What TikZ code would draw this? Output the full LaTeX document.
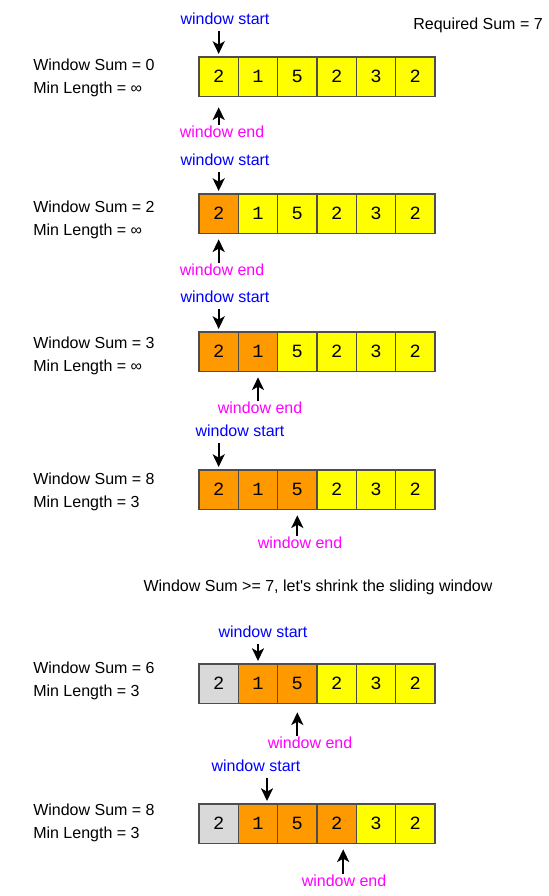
\documentclass[tikz,border=0pt]{standalone}
\usepackage{fontspec}
\setmainfont{Liberation Sans}
\newfontfamily\cellfont{Liberation Mono}
\usetikzlibrary{arrows.meta,positioning}
\definecolor{todo}{HTML}{FFFF00}
\definecolor{inwin}{HTML}{FF9900}
\definecolor{gone}{HTML}{D9D9D9}
\definecolor{celledge}{HTML}{4D4D4D}
\definecolor{startblue}{HTML}{0000FF}
\definecolor{endpink}{HTML}{FF00FF}

\begin{document}
\begin{tikzpicture}[x=0.75pt,y=-0.75pt,
  cell/.style={rectangle,draw=celledge,line width=1.1pt,minimum size=29.5pt,inner sep=0pt,outer sep=0pt,
    font=\cellfont\fontsize{14pt}{16pt}\selectfont},
  txt/.style={inner sep=0pt,text height=9pt,text depth=2.5pt,font=\fontsize{12pt}{14pt}\selectfont},
  sum node/.style={txt,anchor=west},
  start node/.style={txt,text=startblue},
  end node/.style={txt,text=endpink},
  ptr/.style={-{Stealth[length=9.5pt,width=9pt,inset=2.5pt]},line width=1.6pt},
  down/.style={ptr,shorten <=2.5pt,shorten >=2.25pt},
  up/.style={ptr,shorten >=4.5pt}]

  \useasboundingbox (0,0) rectangle (549,896);

  % the six rows of cells: gray = left behind, orange = in the window
  \foreach \r/\ytop/\g/\o in {1/57/0/0,2/194/0/1,3/332/0/2,4/470/0/3,5/664/1/2,6/804/1/3}{
    \coordinate (\r-0) at (199,\ytop+19.65);
    \foreach \v [count=\c,remember=\c as \p (initially 0)] in {2,1,5,2,3,2}{
      \ifnum\c>\g
        \ifnum\c>\numexpr\g+\o\relax \def\tint{todo}\else\def\tint{inwin}\fi
      \else \def\tint{gone}\fi
      \node[cell,fill=\tint,right=0pt of \r-\p] (\r-\c) {\v};
    }
  }

  \node[txt,anchor=east] (req) at (543,25) {Required Sum = 7};

  \node[sum node] (sum1) at (33,66) {Window Sum = 0};
  \node[sum node] (sum2) at (33,208) {Window Sum = 2};
  \node[sum node] (sum3) at (33,344) {Window Sum = 3};
  \node[sum node] (sum4) at (33,480) {Window Sum = 8};
  \node[sum node] (sum5) at (33,669) {Window Sum = 6};
  \node[sum node] (sum6) at (33,811) {Window Sum = 8};
  \node[sum node,below=17.25pt of sum1.west,anchor=west] (len1) {Min Length = ∞};
  \node[sum node,below=17.25pt of sum2.west,anchor=west] (len2) {Min Length = ∞};
  \node[sum node,below=17.25pt of sum3.west,anchor=west] (len3) {Min Length = ∞};
  \node[sum node,below=17.25pt of sum4.west,anchor=west] (len4) {Min Length = 3};
  \node[sum node,below=17.25pt of sum5.west,anchor=west] (len5) {Min Length = 3};
  \node[sum node,below=17.25pt of sum6.west,anchor=west] (len6) {Min Length = 3};

  \node[txt] (shrink) at (318,587) {Window Sum >= 7, let\textquotesingle s shrink the sliding window};

  \node[start node] (s1) at (225,20) {window start};
  \node[start node] (s2) at (225,161) {window start};
  \node[start node] (s3) at (225,298) {window start};
  \node[start node] (s4) at (240,432) {window start};
  \node[start node] (s5) at (263,633) {window start};
  \node[start node] (s6) at (256,767) {window start};

  \node[end node] (e1) at (222,133) {window end};
  \node[end node] (e2) at (222,271) {window end};
  \node[end node] (e3) at (260,409) {window end};
  \node[end node] (e4) at (300,544) {window end};
  \node[end node] (e5) at (310,744) {window end};
  \node[end node] (e6) at (344,882) {window end};

  \coordinate (p6) at ([xshift=6.75pt]6-2.north);
  \coordinate (q6) at ([xshift=4.9pt]6-4.south);

  \draw[down] (s1.south -| 1-1) -- (1-1.north);
  \draw[down] (s2.south -| 2-1) -- (2-1.north);
  \draw[down] (s3.south -| 3-1) -- (3-1.north);
  \draw[down] (s4.south -| 4-1) -- (4-1.north);
  \draw[down] (s5.south -| 5-2) -- (5-2.north);
  \draw[down] (s6.south -| p6) -- (p6);

  \draw[up,shorten >=8.25pt] (e1.north -| 1-1) -- (1-1.south);
  \draw[up] (e2.north -| 2-1) -- (2-1.south);
  \draw[up] (e3.north -| 3-2) -- (3-2.south);
  \draw[up] (e4.north -| 4-3) -- (4-3.south);
  \draw[up,shorten >=6.75pt] (e5.north -| 5-3) -- (5-3.south);
  \draw[up] (e6.north -| q6) -- (q6);

\end{tikzpicture}
\end{document}
